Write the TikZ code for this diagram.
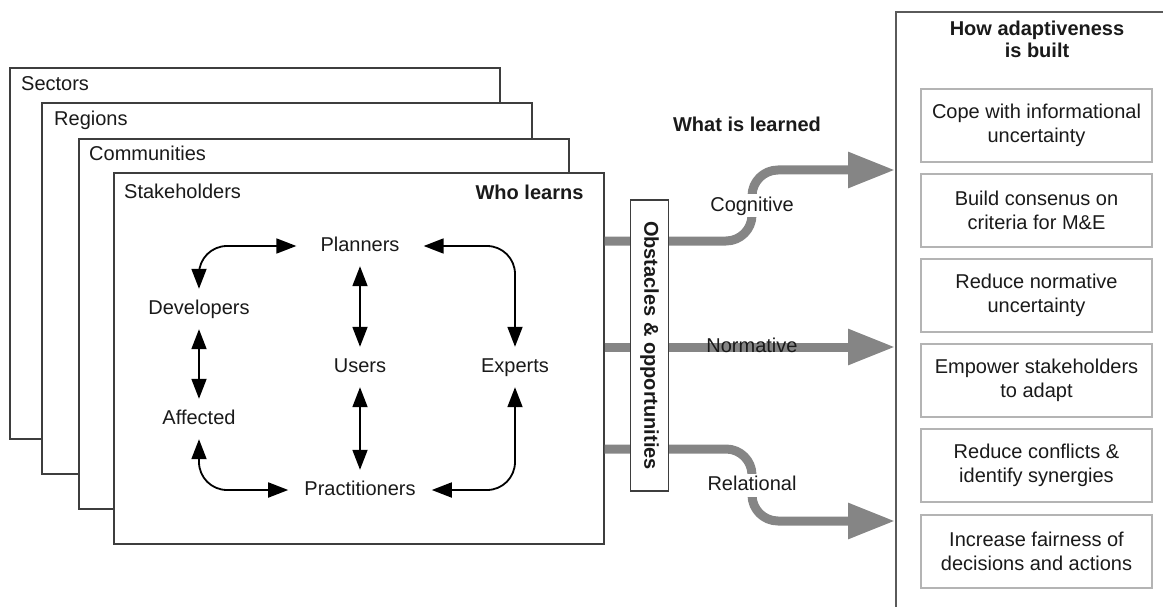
\documentclass[tikz,border=0pt]{standalone}
\usepackage{fontspec}
\setmainfont{Liberation Sans}
\usetikzlibrary{arrows.meta}
\definecolor{layerline}{HTML}{3E3E3E}
\definecolor{outerline}{HTML}{5A5A5A}
\definecolor{goalline}{HTML}{B4B4B4}
\definecolor{bandgray}{HTML}{858585}
\definecolor{ink}{HTML}{1A1A1A}

\begin{document}
\begin{tikzpicture}[x=1pt,y=-1pt,
  font=\fontsize{20}{24}\selectfont, text=ink,
  layer/.style={draw=layerline, line width=1.6pt, fill=white, anchor=north west, inner sep=0pt},
  layertitle/.style={anchor=west, inner sep=0pt, text height=15pt, text depth=4pt},
  actor/.style={inner ysep=0pt, inner xsep=#1, minimum height=40pt, text height=15pt, text depth=4pt},
  actor/.default=20pt,
  link/.style={draw=black, line width=1.8pt, rounded corners=28pt,
    {Triangle[length=20pt,width=15pt]}-{Triangle[length=20pt,width=15pt]}},
  band/.style={draw=bandgray, line width=9pt, rounded corners=26pt,
    -{Triangle[length=47pt,width=34pt]}},
  bandlabel/.style={inner sep=2pt, text height=15pt, text depth=4pt},
  goal/.style={draw=goalline, line width=1.3pt, fill=white, minimum width=231pt,
    minimum height=73pt, align=center, font=\fontsize{20}{24}\selectfont}
]
\useasboundingbox (0,0) rectangle (1163,607);

% nested levels of learners
\node[layer, minimum width=490pt, minimum height=371pt] (sectors) at (9,67) {};
\node[layertitle] at ([xshift=12pt,yshift=-18pt]sectors.north west) {Sectors};
\node[layer, minimum width=490pt, minimum height=371pt] (regions) at (41,102) {};
\node[layertitle] at ([xshift=13pt,yshift=-18pt]regions.north west) {Regions};
\node[layer, minimum width=490pt, minimum height=370pt] (communities) at (78,138) {};
\node[layertitle] at ([xshift=11pt,yshift=-17pt]communities.north west) {Communities};
\node[layer, minimum width=490pt, minimum height=371pt] (stake) at (113,172) {};
\node[layertitle] at ([xshift=11pt,yshift=-21pt]stake.north west) {Stakeholders};
\node[layertitle, anchor=east, font=\fontsize{20}{24}\selectfont\bfseries]
  at ([xshift=-21pt,yshift=-22pt]stake.north east) {Who learns};

% stakeholder groups
\node[actor=24pt] (planners) at (360,246) {Planners};
\node[actor] (developers) at (199,309) {Developers};
\node[actor] (users) at (360,367) {Users};
\node[actor] (experts) at (515,367) {Experts};
\node[actor] (affected) at (199,419) {Affected};
\node[actor=16pt] (practitioners) at (360,490) {Practitioners};

\draw[link] (developers.north) |- (planners.west);
\draw[link] (planners.east) -| (experts.north);
\draw[link] (planners.south) -- (users.north);
\draw[link] (users.south) -- (practitioners.north);
\draw[link] (developers.south) -- (affected.north);
\draw[link] (affected.south) |- (practitioners.west);
\draw[link] (experts.south) |- (practitioners.east);

% how adaptiveness is built
\node[draw=outerline, line width=1.8pt, fill=white, anchor=north west,
  minimum width=300pt, minimum height=640pt, inner sep=0pt] (adapt) at (895,11) {};
\node[align=center, font=\fontsize{20}{22}\selectfont\bfseries] (adapttitle) at (1037,39)
  {How adaptiveness\\is built};
\node[goal] (g1) at (1036.5,125.5) {Cope with informational\\uncertainty};
\node[goal] (g2) at (1036.5,210.5) {Build consenus on\\criteria for M\&E};
\node[goal] (g3) at (1036.5,295.5) {Reduce normative\\uncertainty};
\node[goal] (g4) at (1036.5,380.5) {Empower stakeholders\\to adapt};
\node[goal] (g5) at (1036.5,465.5) {Reduce conflicts \&\\identify synergies};
\node[goal] (g6) at (1036.5,551.5) {Increase fairness of\\decisions and actions};

% what is learned
\coordinate (cogA) at (752,241);
\coordinate (cogB) at (752,170);
\coordinate (normA) at (752,347);
\coordinate (relA) at (752,449);
\coordinate (relB) at (752,521);
\draw[band] (stake.east |- cogA) -- (cogA) -- (cogB) -- (adapt.west |- cogB);
\draw[band] (stake.east |- normA) -- (adapt.west |- normA);
\draw[band] (stake.east |- relA) -- (relA) -- (relB) -- (adapt.west |- relB);

\node[draw=layerline, line width=1.6pt, fill=white, rotate=-90, minimum width=291pt,
  minimum height=38pt, inner sep=0pt, font=\fontsize{20}{24}\selectfont\bfseries]
  (obstacles) at (649.5,345.5) {Obstacles \& opportunities};

\node[bandlabel, fill=white] (cognitive) at (752,206) {Cognitive};
\node[bandlabel] (normative) at (752,347) {Normative};
\node[bandlabel, fill=white] (relational) at (752,485) {Relational};
\node[font=\fontsize{20}{24}\selectfont\bfseries] (learned) at (747,124) {What is learned};
\end{tikzpicture}
\end{document}
